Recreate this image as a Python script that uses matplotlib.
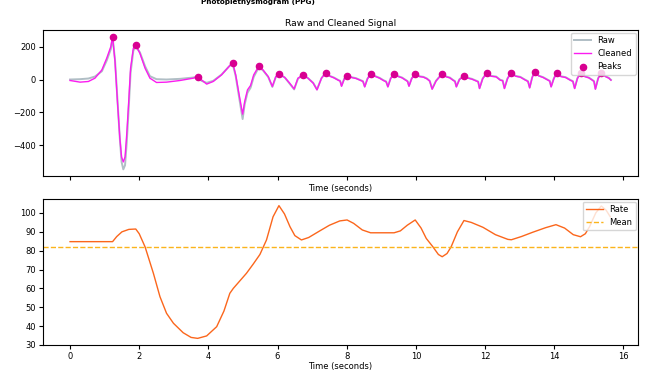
import matplotlib
matplotlib.use("Agg")
import matplotlib.pyplot as plt

# ---------------- data ----------------
sig_time = [0.00, 0.29, 0.53, 0.72, 0.92, 1.06, 1.18, 1.23, 1.30, 1.37, 1.44, 1.49, 1.54, 1.59,
            1.64, 1.70, 1.75, 1.83, 1.90, 2.02, 2.17, 2.31, 2.50, 2.79, 3.18, 3.56, 3.69, 3.80,
            3.95, 4.14, 4.38, 4.60, 4.70, 4.79, 4.89, 4.99, 5.05, 5.13, 5.22, 5.31, 5.46, 5.58,
            5.73, 5.85, 5.95, 6.04, 6.21, 6.35, 6.48, 6.59, 6.74, 6.88, 7.03, 7.14, 7.27, 7.39,
            7.51, 7.63, 7.75, 7.81, 7.85, 7.93, 8.02,
            8.14, 8.27, 8.40, 8.47, 8.52, 8.60, 8.69,
            8.81, 8.95, 9.06, 9.14, 9.19, 9.27, 9.37,
            9.49, 9.60, 9.70, 9.76, 9.80, 9.88, 9.98,
            10.10, 10.22, 10.32, 10.40, 10.47, 10.58, 10.66, 10.76,
            10.88, 10.98, 11.07, 11.13, 11.17, 11.26, 11.39,
            11.51, 11.62, 11.73, 11.80, 11.84, 11.93, 12.05,
            12.17, 12.32, 12.44, 12.51, 12.56, 12.65, 12.76,
            12.88, 13.02, 13.15, 13.24, 13.29, 13.36, 13.43,
            13.55, 13.68, 13.80, 13.87, 13.91, 13.99, 14.07,
            14.19, 14.33, 14.46, 14.54, 14.59, 14.67, 14.76,
            14.88, 15.00, 15.10, 15.15, 15.19, 15.27, 15.36,
            15.48, 15.58, 15.64]

cleaned = [-6, -16, -12, 8, 58, 129, 200, 260, 109, -133, -356, -470, -500, -470,
           -330, -120, 68, 190, 208, 159, 68, 8, -18, -16, -6, 8, 16, -2,
           -28, -12, 28, 79, 103, 28, -93, -210, -133, -63, -36, 28, 82, 58,
           18, -42, 18, 36, 12, -22, -57, 8, 28, 8, -22, -63, 8, 40,
           20, 10, -4, -10, -41, 4, 24,
           12, 6, -6, -12, -45, 4, 32,
           20, 8, -6, -14, -45, 6, 32,
           18, 10, -4, -12, -41, 6, 32,
           18, 14, 4, -10, -59, -10, 10, 32,
           16, 10, -4, -12, -45, 0, 20,
           8, 2, -8, -14, -55, 4, 40,
           20, 16, -4, -8, -55, 6, 40,
           20, 14, -2, -12, -51, 10, 46,
           22, 12, -2, -10, -45, 6, 38,
           18, 12, -4, -12, -55, 6, 40,
           18, 10, -4, -12, -59, 6, 40,
           18, 8, -4]

raw = [0, 2, 6, 18, 50, 115, 185, 255, 120, -120, -360, -500, -545, -520,
       -380, -160, 40, 175, 200, 165, 80, 20, 2, 0, 4, 12, 18, -8,
       -20, -8, 30, 80, 98, 20, -110, -240, -150, -80, -50, 15, 75, 55,
       15, -45, 15, 32, 12, -25, -60, 5, 28, 8, -20, -60, 8, 40,
       22, 12, -2, -8, -38, 6, 26,
       14, 8, -4, -10, -42, 6, 34,
       22, 10, -4, -12, -42, 8, 34,
       20, 12, -2, -10, -38, 8, 34,
       20, 16, 6, -8, -56, -8, 12, 34,
       18, 12, -2, -10, -42, 2, 22,
       10, 4, -6, -12, -52, 6, 42,
       22, 18, -2, -6, -52, 8, 42,
       22, 16, 0, -10, -48, 12, 48,
       24, 14, 0, -8, -42, 8, 40,
       20, 14, -2, -10, -52, 8, 42,
       20, 12, -2, -10, -56, 8, 42,
       20, 10, -2]

peak_time = [1.23, 1.90, 3.69, 4.70, 5.46, 6.04, 6.74, 7.39, 8.02, 8.69, 9.37, 9.98,
             10.76, 11.39, 12.05, 12.76, 13.43, 14.07, 14.76, 15.36]
peak_value = [260, 208, 16, 103, 82, 36, 28, 40, 24, 32, 32, 32,
              32, 20, 40, 40, 46, 38, 40, 40]

rate_time = [0.00, 1.23, 1.35, 1.50, 1.70, 1.90, 2.00, 2.17, 2.41, 2.60, 2.79, 2.99, 3.27,
             3.50, 3.69, 3.95, 4.24, 4.45, 4.62, 4.72, 5.10, 5.30, 5.49, 5.68, 5.87, 6.04,
             6.20, 6.36, 6.50, 6.69, 6.90, 7.22, 7.50, 7.80, 8.01, 8.20, 8.45, 8.69, 9.37,
             9.55, 9.75, 9.98, 10.15, 10.30, 10.49, 10.65, 10.76, 10.90, 11.02, 11.20, 11.39,
             11.60, 11.94, 12.30, 12.66, 12.76, 13.05, 13.38, 13.75, 14.05, 14.30, 14.55,
             14.76, 14.90, 15.02, 15.20, 15.36, 15.50, 15.62]
rate_value = [84.8, 84.8, 87.5, 90.0, 91.3, 91.5, 89.0, 82.0, 68.0, 55.6, 46.8, 41.5, 36.5,
              34.0, 33.5, 34.8, 39.7, 48.0, 57.4, 60.0, 68.0, 73.0, 78.0, 85.7, 98.0, 103.9,
              99.5, 92.7, 88.0, 85.7, 87.0, 90.5, 93.5, 95.8, 96.3, 94.5, 91.0, 89.5, 89.5,
              90.5, 93.5, 96.3, 92.0, 86.5, 82.1, 78.0, 76.8, 78.5, 82.1, 90.0, 96.0,
              95.0, 92.4, 88.5, 86.0, 85.8, 87.5, 89.8, 92.2, 93.8, 92.0, 88.5,
              87.4, 89.0, 92.7, 100.0, 103.7, 101.5, 98.0]
rate_mean = 82.1

# ---------------- plot ----------------
W, H = 649, 373
fig = plt.figure(figsize=(W / 100, H / 100), dpi=100)
fs = 6.0

ax1 = fig.add_axes([43 / W, 1 - 176 / H, (638 - 43) / W, (176 - 30) / H])
ax2 = fig.add_axes([43 / W, 1 - 345 / H, (638 - 43) / W, (345 - 199) / H], sharex=ax1)

fig.text(258 / W, 1 - 4 / H, "Photoplethysmogram (PPG)", ha="center", va="baseline",
         fontsize=5.2, fontweight="bold")

ax1.set_title("Raw and Cleaned Signal", fontsize=6.6, pad=3)
ax1.plot(sig_time, raw, color="#B0BEC5", lw=1.4, label="Raw", zorder=1)
ax1.plot(sig_time, cleaned, color="#FB1CF0", lw=1.0, label="Cleaned", zorder=2)
ax1.scatter(peak_time, peak_value, color="#D80091", s=20, label="Peaks", zorder=3)
ax1.set_xlabel("Time (seconds)", fontsize=fs, labelpad=3)
ax1.tick_params(labelsize=fs, labelbottom=False, length=3, pad=2)
ax1.legend(loc="upper right", fontsize=fs, borderaxespad=0.3, handlelength=2.0)

ax2.plot(rate_time, rate_value, color="#FB661C", lw=1.0, label="Rate")
ax2.axhline(rate_mean, color="#FBB41C", lw=1.0, ls="--", label="Mean")
ax2.set_xlabel("Time (seconds)", fontsize=fs, labelpad=1)
ax2.tick_params(labelsize=fs, length=3, pad=2)
ax2.legend(loc="upper right", fontsize=fs, borderaxespad=0.3, handlelength=2.0)
ax2.set_xticks([0, 2, 4, 6, 8, 10, 12, 14, 16])
ax2.set_yticks([30, 40, 50, 60, 70, 80, 90, 100])

fig.savefig("out.png", dpi=100)
